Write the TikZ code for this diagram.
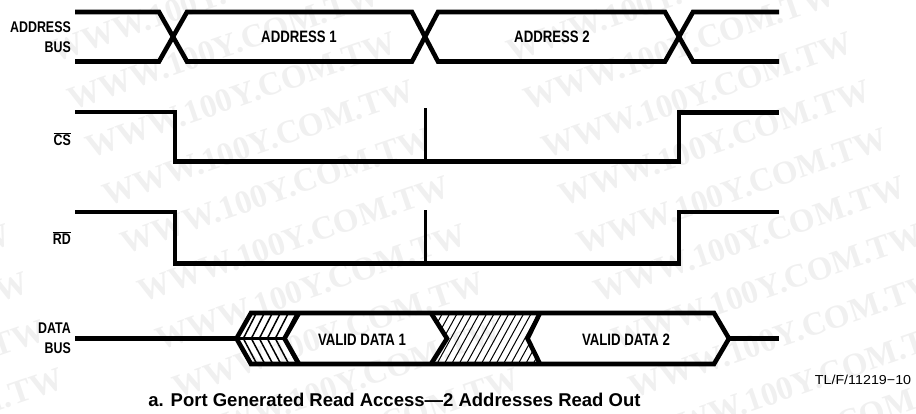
\documentclass[tikz,border=0pt]{standalone}
\usepackage{fontspec}
\setmainfont{Liberation Sans}
\newfontfamily\narrowf[FakeStretch=0.8,BoldFeatures={FakeStretch=0.8}]{Liberation Sans}
\newfontfamily\reff[FakeStretch=1.1]{Liberation Sans}
\newfontfamily\markf{Liberation Serif}
\begin{document}
\begin{tikzpicture}[x=1pt,y=-1pt,
  wave/.style={line width=4.6pt,line join=miter,line cap=butt},
  spike/.style={line width=3.8pt},
  hatchline/.style={line width=1pt},
  sig/.style={font=\narrowf\bfseries\fontsize{15.5}{20}\selectfont,inner sep=0pt,align=right,anchor=east},
  lab/.style={font=\narrowf\bfseries\fontsize{16.5}{18}\selectfont,inner sep=0pt},
  wm/.style={font=\markf\bfseries\fontsize{33}{33}\selectfont,text=black!6,rotate=19,inner sep=0pt}]
\useasboundingbox (0,0) rectangle (916,413);
% watermark
\foreach \m in {-1,0,1}
  \foreach \n in {-4,...,5}
    \node[wm] (wm\m\n) at ({276+17.5*\n+456*\m},{191+48*\n}) {WWW.100Y.COM.TW};
% address bus
\draw[wave] (75,12) -- (159,12) -- (187,61.5) -- (412,61.5) -- (438,12) -- (665,12) -- (693,61.5) -- (779,61.5);
\draw[wave] (75,61.5) -- (159,61.5) -- (187,12) -- (412,12) -- (438,61.5) -- (665,61.5) -- (693,12) -- (779,12);
% CS
\draw[wave] (75,112) -- (175,112) -- (175,161.5) -- (679,161.5) -- (679,112.5) -- (779,112.5);
\coordinate (cst) at (425.5,108);
\draw[spike] (cst) -- (425.5,161.5);
% RD
\draw[wave] (75,212) -- (175,212) -- (175,263.5) -- (679,263.5) -- (679,212) -- (779,212);
\coordinate (rdt) at (425.5,210);
\draw[spike] (rdt) -- (425.5,263.5);
% data hatching
\begin{scope}
\clip (236.5,338.5) -- (251,313) -- (299,313) -- (284.5,338.5) -- cycle;
\foreach \k in {0,8,...,80}
  \draw[hatchline,line width=1.5pt] (226+\k,341) -- (243+\k,308);
\end{scope}
\begin{scope}
\clip (236.5,338.5) -- (251,364) -- (299,364) -- (284.5,338.5) -- cycle;
\foreach \k in {0,8,...,80}
  \draw[hatchline,line width=1.5pt] (226+\k,336) -- (243+\k,368);
\end{scope}
\draw[line width=3pt] (236.5,338.5) -- (284.5,338.5);
\begin{scope}
\clip (429,313) -- (447,338.5) -- (429,364) -- (540,364) -- (527.5,338.5) -- (540,313) -- cycle;
\foreach \k in {0,7.4,...,170}
  \draw[hatchline] (405+\k,368) -- (438+\k,308);
\end{scope}
% data bus
\draw[wave] (75,338.5) -- (236.5,338.5) -- (251,313) -- (714,313) -- (729,338.5) -- (714,364) -- (251,364) -- (236.5,338.5);
\draw[wave] (729,338.5) -- (779,338.5);
\draw[wave] (299,313) -- (284.5,338.5) -- (299,364);
\draw[wave] (431,313) -- (447,338.5) -- (431,364);
\draw[wave] (540,313) -- (527.5,338.5) -- (540,364);
% labels
\node[sig] (addrl) at (71,37) {ADDRESS\\BUS};
\node[sig] (csl) at (71,139) {$\overline{\hbox{CS}}$};
\node[sig] (rdl) at (71,238) {$\overline{\hbox{RD}}$};
\node[sig] (datal) at (71,338) {DATA\\BUS};
\node[lab] (a1) at (299,37) {ADDRESS 1};
\node[lab] (a2) at (552,37) {ADDRESS 2};
\node[lab] (d1) at (362,340) {VALID DATA 1};
\node[lab] (d2) at (626,340) {VALID DATA 2};
\node[inner sep=0pt,font=\bfseries\fontsize{18.5}{20}\selectfont] (cap) at (394.5,400) {a. Port Generated Read Access—2 Addresses Read Out};
\node[inner sep=0pt,font=\reff\fontsize{13}{15}\selectfont] (ref) at (863,380) {TL/F/11219−10};
\end{tikzpicture}
\end{document}
